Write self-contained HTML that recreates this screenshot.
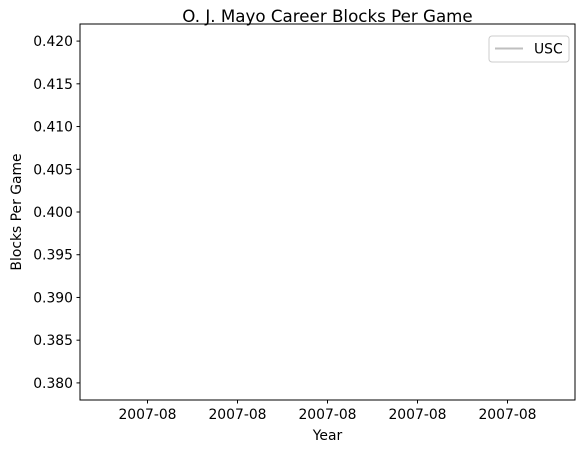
<!DOCTYPE html>
<html><head><meta charset="utf-8"><style>
body{margin:0;background:#fff;}
svg text{font-family:"DejaVu Sans","Liberation Sans",sans-serif;fill:#000}
</style></head><body>
<svg id="c" width="588" height="453" xmlns="http://www.w3.org/2000/svg">
<rect width="588" height="453" fill="#fff"/>
<text x="327.5" y="22" font-size="16.7" text-anchor="middle">O. J. Mayo Career Blocks Per Game</text>
<text x="327.5" y="440" font-size="13.9" text-anchor="middle">Year</text>
<text transform="translate(21,212) rotate(-90)" font-size="13.9" text-anchor="middle">Blocks Per Game</text>
<g id="ticks"></g>
<g id="marks"></g>
<rect x="80" y="24" width="495" height="376" fill="none" stroke="#000" stroke-width="1"/>
<g>
<rect x="489" y="36" width="80" height="26" rx="3" fill="#fff" stroke="#ccc"/>
<line x1="495" y1="48.5" x2="523" y2="48.5" stroke="#bfbfbf" stroke-width="2"/>
<text x="534" y="53.5" font-size="13.9">USC</text>
</g>
</svg>
<script>
const years = ["2007-08"];
const blocks = [0.4];
const yTickValues = [0.380,0.385,0.390,0.395,0.400,0.405,0.410,0.415,0.420];
const yTickLabels = ["0.380","0.385","0.390","0.395","0.400","0.405","0.410","0.415","0.420"];
const xTickOffsets = [-0.04,-0.02,0,0.02,0.04];
const xTickLabels = ["2007-08","2007-08","2007-08","2007-08","2007-08"];

const L=80,R=575,T=24,B=400;
let lo=Math.min(...blocks),hi=Math.max(...blocks);
if(lo===hi){lo=lo*0.95;hi=hi*1.05;}
const pad=(hi-lo)*0.05;lo-=pad;hi+=pad;
function y(val){return B-(val-lo)/(hi-lo)*(B-T);}
function x(off){return L+(off+0.055)/0.11*(R-L);}
const ns="http://www.w3.org/2000/svg";
const tg=document.getElementById('ticks');
function mk(tag,attrs,parent){const e=document.createElementNS(ns,tag);for(const k in attrs)e.setAttribute(k,attrs[k]);parent.appendChild(e);return e;}
yTickValues.forEach((tv,i)=>{
  const yy=y(tv);
  const l=mk('line',{x1:L-3.5,x2:L,y1:yy,y2:yy,stroke:'#000'},tg);
  
  
  const t=mk('text',{x:L-7,y:yy+5,'font-size':'13.9','text-anchor':'end'},tg);
  t.textContent=yTickLabels[i];
  
  
});
xTickOffsets.forEach((o,i)=>{
  const xx=x(o);
  const l=mk('line',{x1:xx,x2:xx,y1:B,y2:B+3.5,stroke:'#000'},tg);
  
  
  const t=mk('text',{x:xx,y:B+19,'font-size':'13.9','text-anchor':'middle'},tg);
  t.textContent=xTickLabels[i];
  
  
});
const mg=document.getElementById('marks');
const pts=blocks.map((b,i)=>[x(0)+i*0,y(b)]);
const p=mk('path',{d:'M'+pts.map(q=>q.join(',')).join('L'),stroke:'#bfbfbf','stroke-width':2,fill:'none'},mg);


</script>
</body></html>
